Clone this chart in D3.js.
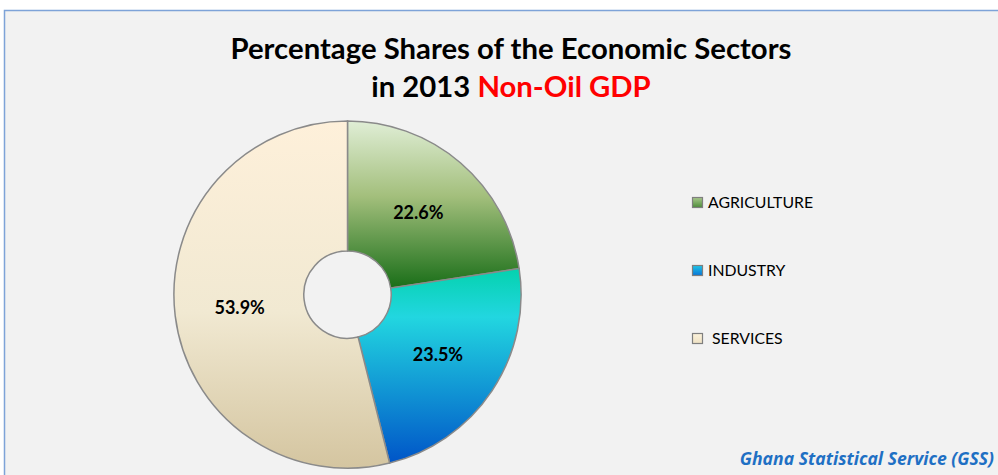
<!DOCTYPE html>
<html><head><meta charset="utf-8">
<script src="https://cdn.jsdelivr.net/npm/d3@7"></script>
<style>body{margin:0;background:#fff;}svg{display:block;}</style>
</head><body>
<script>
const categories = ["AGRICULTURE", "INDUSTRY", "SERVICES"];
const values = [22.6, 23.5, 53.9];
const labels = ["22.6%", "23.5%", "53.9%"];
const gradStops = [
  [["0%", "#e0eed6"], ["45%", "#a3bf7c"], ["100%", "#196e18"]],
  [["0%", "#04d2ae"], ["25%", "#22d6e0"], ["100%", "#0055c8"]],
  [["0%", "#fef0da"], ["55%", "#f1e9d2"], ["100%", "#d4c5a0"]]
];
const legendStops = [
  [["0%", "#a9c98c"], ["100%", "#4d8c3a"]],
  [["0%", "#1fc7e8"], ["100%", "#0a74d6"]],
  [["0%", "#fcf2dc"], ["100%", "#eee2c4"]]
];

const W = 998, H = 475;
const svg = d3.select("body").append("svg").attr("width", W).attr("height", H);
const defs = svg.append("defs");
gradStops.forEach((st, i) => {
  const g = defs.append("linearGradient").attr("id", "g" + i).attr("x1", 0).attr("y1", 0).attr("x2", 0).attr("y2", 1);
  st.forEach(s => g.append("stop").attr("offset", s[0]).attr("stop-color", s[1]));
});
legendStops.forEach((st, i) => {
  const g = defs.append("linearGradient").attr("id", "l" + i).attr("x1", 0).attr("y1", 0).attr("x2", 0).attr("y2", 1);
  st.forEach(s => g.append("stop").attr("offset", s[0]).attr("stop-color", s[1]));
});

// chart area
svg.append("rect").attr("x", 4.5).attr("y", 10.5).attr("width", W + 10).attr("height", H + 10)
  .attr("fill", "#f2f2f2").attr("stroke", "#7ea3d8").attr("stroke-width", 1.5);

// title
const title = svg.append("text").attr("text-anchor", "middle")
  .attr("font-family", "Lato, 'Open Sans', sans-serif").attr("font-weight", "bold").attr("font-size", 29.3);
title.append("tspan").attr("x", 511).attr("y", 59).attr("fill", "#000").text("Percentage Shares of the Economic Sectors");
const t2 = title.append("tspan").attr("x", 511).attr("y", 97);
t2.append("tspan").attr("fill", "#000").text("in 2013 ");
t2.append("tspan").attr("fill", "#ff0000").text("Non-Oil GDP");

// donut
const cx = 347.5, cy = 294.6, R = 173.6, r = 43.7;
const pie = d3.pie().sort(null).value(d => d)(values);
const arc = d3.arc().innerRadius(r).outerRadius(R);
const g = svg.append("g").attr("transform", `translate(${cx},${cy})`);
g.selectAll("path").data(pie).join("path")
  .attr("d", arc).attr("fill", (d, i) => `url(#g${i})`)
  .attr("stroke", "#8a8a8a").attr("stroke-width", 1.5);
g.selectAll("text").data(pie).join("text")
  .attr("transform", d => `translate(${arc.centroid(d)})`)
  .attr("text-anchor", "middle").attr("dy", "0.35em")
  .attr("font-family", "Lato, 'Open Sans', sans-serif").attr("font-weight", "bold").attr("font-size", 18)
  .attr("fill", "#000").text((d, i) => labels[i]);

// legend
const ly = d3.scalePoint().domain(categories).range([202, 338]);
const lg = svg.append("g");
categories.forEach((c, i) => {
  lg.append("rect").attr("x", 692.5).attr("y", ly(c) - 4.5).attr("width", 10).attr("height", 10)
    .attr("fill", `url(#l${i})`).attr("stroke", "#7f7f7f").attr("stroke-width", 1.2);
  lg.append("text").attr("x", i === 2 ? 712 : 708).attr("y", ly(c)).attr("dy", "0.35em")
    .attr("font-family", "Lato, 'Open Sans', sans-serif").attr("font-size", 15.8).attr("fill", "#000").text(c);
});

// source
svg.append("text").attr("x", 994).attr("y", 465).attr("text-anchor", "end")
  .attr("font-family", "'Open Sans', Lato, sans-serif").attr("font-style", "italic").attr("font-weight", "bold")
  .attr("font-size", 17.6).attr("fill", "#1f70c4").text("Ghana Statistical Service (GSS)");
</script>
</body></html>
